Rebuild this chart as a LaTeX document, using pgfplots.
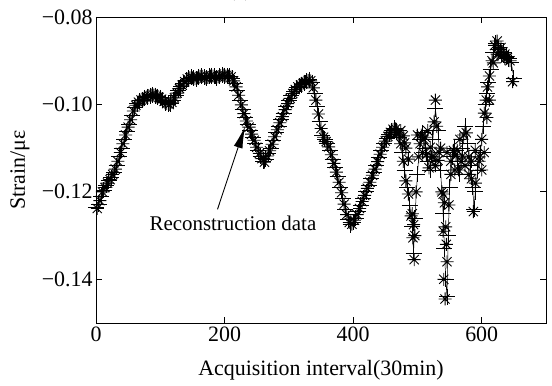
\documentclass[border=0pt]{standalone}
\usepackage{pgfplots}
\pgfplotsset{compat=1.18}
\usepackage{fontspec}
\setmainfont{Liberation Serif}
\usetikzlibrary{arrows.meta}
\pgfdeclareplotmark{mstar}{%
 \pgfpathmoveto{\pgfqpoint{-\pgfplotmarksize}{0pt}}\pgfpathlineto{\pgfqpoint{\pgfplotmarksize}{0pt}}%
 \pgfpathmoveto{\pgfqpoint{0pt}{-\pgfplotmarksize}}\pgfpathlineto{\pgfqpoint{0pt}{\pgfplotmarksize}}%
 \pgfpathmoveto{\pgfqpoint{-0.707\pgfplotmarksize}{-0.707\pgfplotmarksize}}\pgfpathlineto{\pgfqpoint{0.707\pgfplotmarksize}{0.707\pgfplotmarksize}}%
 \pgfpathmoveto{\pgfqpoint{-0.707\pgfplotmarksize}{0.707\pgfplotmarksize}}\pgfpathlineto{\pgfqpoint{0.707\pgfplotmarksize}{-0.707\pgfplotmarksize}}%
 \pgfusepathqstroke}

\pgfplotstableread{
x y
0 -0.1235
4 -0.1228
8 -0.1210
12 -0.1196
16 -0.1185
20 -0.1175
24 -0.1168
28 -0.1155
32 -0.1140
36 -0.1120
40 -0.1100
44 -0.1080
48 -0.1062
52 -0.1045
56 -0.1025
60 -0.1008
64 -0.0998
68 -0.0992
72 -0.0990
76 -0.0985
80 -0.0982
84 -0.0980
88 -0.0978
92 -0.0980
96 -0.0982
100 -0.0985
104 -0.0990
108 -0.0996
112 -0.1000
116 -0.0998
120 -0.0990
124 -0.0980
128 -0.0968
132 -0.0960
136 -0.0952
140 -0.0945
144 -0.0940
148 -0.0938
152 -0.0940
156 -0.0942
160 -0.0937
164 -0.0935
168 -0.0938
172 -0.0940
176 -0.0936
180 -0.0934
184 -0.0936
188 -0.0940
192 -0.0935
196 -0.0933
200 -0.0934
204 -0.0936
208 -0.0935
212 -0.0940
216 -0.0952
220 -0.0968
224 -0.0990
228 -0.1012
232 -0.1030
236 -0.1045
240 -0.1060
244 -0.1075
248 -0.1090
252 -0.1105
256 -0.1118
260 -0.1130
264 -0.1125
268 -0.1112
272 -0.1100
276 -0.1082
280 -0.1065
284 -0.1050
288 -0.1035
292 -0.1020
296 -0.1005
300 -0.0992
304 -0.0980
308 -0.0970
312 -0.0962
316 -0.0958
320 -0.0955
324 -0.0950
328 -0.0946
332 -0.0944
336 -0.0950
340 -0.0975
344 -0.1005
348 -0.1040
352 -0.1070
356 -0.1080
360 -0.1090
364 -0.1105
368 -0.1125
372 -0.1145
376 -0.1165
380 -0.1190
384 -0.1215
388 -0.1240
392 -0.1262
396 -0.1275
400 -0.1270
404 -0.1260
408 -0.1245
412 -0.1230
416 -0.1215
420 -0.1200
424 -0.1185
428 -0.1170
432 -0.1155
436 -0.1140
440 -0.1122
444 -0.1105
448 -0.1090
452 -0.1078
456 -0.1068
460 -0.1060
464 -0.1055
468 -0.1060
472 -0.1075
476 -0.1110
480 -0.1150
484 -0.1190
488 -0.1230
492 -0.1280
494 -0.1340
496 -0.1260
500 -0.1160
504 -0.1080
508 -0.1065
512 -0.1100
516 -0.1130
520 -0.1150
524 -0.1080
528 -0.1010
532 -0.1060
536 -0.1150
540 -0.1250
542 -0.1330
544 -0.1400
546 -0.1440
548 -0.1300
550 -0.1190
554 -0.1120
558 -0.1100
562 -0.1130
566 -0.1160
570 -0.1100
574 -0.1050
578 -0.1090
582 -0.1140
586 -0.1190
588 -0.1240
590 -0.1200
594 -0.1150
598 -0.1110
602 -0.1050
606 -0.1000
608 -0.0975
610 -0.0950
614 -0.0920
618 -0.0880
622 -0.0860
626 -0.0875
630 -0.0885
634 -0.0880
638 -0.0890
642 -0.0895
646 -0.0905
650 -0.0940
}\dataA

\pgfplotstableread{
x y
2 -0.1238
6 -0.1220
10 -0.1200
14 -0.1190
18 -0.1180
22 -0.1172
26 -0.1160
30 -0.1148
34 -0.1130
38 -0.1110
42 -0.1090
46 -0.1070
50 -0.1052
54 -0.1035
58 -0.1015
62 -0.1002
66 -0.0995
70 -0.0990
74 -0.0988
78 -0.0984
82 -0.0980
86 -0.0979
90 -0.0979
94 -0.0981
98 -0.0984
102 -0.0988
106 -0.0993
110 -0.0998
114 -0.1000
118 -0.0995
122 -0.0985
126 -0.0974
130 -0.0964
134 -0.0956
138 -0.0948
142 -0.0942
146 -0.0939
150 -0.0939
154 -0.0941
158 -0.0939
162 -0.0936
166 -0.0936
170 -0.0939
174 -0.0938
178 -0.0935
182 -0.0935
186 -0.0938
190 -0.0937
194 -0.0934
198 -0.0933
202 -0.0935
206 -0.0935
210 -0.0937
214 -0.0946
218 -0.0960
222 -0.0979
226 -0.1001
230 -0.1021
234 -0.1038
238 -0.1052
242 -0.1068
246 -0.1082
250 -0.1098
254 -0.1112
258 -0.1124
262 -0.1132
266 -0.1118
270 -0.1106
274 -0.1091
278 -0.1074
282 -0.1058
286 -0.1042
290 -0.1028
294 -0.1012
298 -0.0998
302 -0.0986
306 -0.0975
310 -0.0966
314 -0.0960
318 -0.0956
322 -0.0952
326 -0.0948
330 -0.0945
334 -0.0946
338 -0.0962
342 -0.0990
346 -0.1022
350 -0.1055
354 -0.1075
358 -0.1085
362 -0.1097
366 -0.1115
370 -0.1135
374 -0.1155
378 -0.1178
382 -0.1202
386 -0.1228
390 -0.1252
394 -0.1270
398 -0.1274
402 -0.1265
406 -0.1252
410 -0.1238
414 -0.1222
418 -0.1208
422 -0.1192
426 -0.1178
430 -0.1162
434 -0.1148
438 -0.1131
442 -0.1114
446 -0.1098
450 -0.1084
454 -0.1073
458 -0.1064
462 -0.1057
466 -0.1056
470 -0.1065
474 -0.1090
478 -0.1130
482 -0.1175
486 -0.1205
490 -0.1255
493 -0.1305
495 -0.1355
498 -0.1200
502 -0.1120
506 -0.1070
510 -0.1080
514 -0.1115
518 -0.1145
522 -0.1120
526 -0.1040
528 -0.0990
530 -0.1050
534 -0.1110
538 -0.1200
540 -0.1290
541 -0.1400
543 -0.1445
546 -0.1360
549 -0.1230
552 -0.1160
556 -0.1105
560 -0.1115
564 -0.1150
568 -0.1130
572 -0.1070
576 -0.1065
580 -0.1120
584 -0.1170
587 -0.1245
590 -0.1180
596 -0.1130
600 -0.1080
604 -0.1020
607 -0.0990
609 -0.0960
612 -0.0935
616 -0.0900
620 -0.0865
624 -0.0855
628 -0.0880
632 -0.0888
636 -0.0885
640 -0.0893
644 -0.0900
648 -0.0948
}\dataB

\pgfplotstableread{
x y
470 -0.1068
474 -0.1060
478 -0.1072
480 -0.1088
482 -0.1100
486 -0.1125
492 -0.1250
494 -0.1275
496 -0.1300
500 -0.1070
504 -0.1090
508 -0.1110
512 -0.1075
516 -0.1060
520 -0.1098
524 -0.1120
528 -0.1140
532 -0.1128
536 -0.1100
540 -0.1205
542 -0.1225
544 -0.1280
545 -0.1320
546 -0.1110
552 -0.1130
558 -0.1150
562 -0.1105
566 -0.1080
570 -0.1118
574 -0.1140
580 -0.1160
584 -0.1130
590 -0.1105
596 -0.1120
600 -0.1150
604 -0.1110
608 -0.1030
612 -0.0990
618 -0.0905
624 -0.0885
630 -0.0870
636 -0.0895
}\dataC

\begin{document}
\begin{tikzpicture}[font=\fontsize{21}{25}\selectfont]
\begin{axis}[
  scale only axis,
  width=450bp, height=306bp,
  xmin=0, xmax=700, ymin=-0.15, ymax=-0.08,
  xtick={0,200,400,600}, xticklabels={0,200,400,600},
  ytick={-0.14,-0.12,-0.10,-0.08}, yticklabels={−0.14,−0.12,−0.10,−0.08},
  tick label style={font=\fontsize{22}{26}\selectfont},
  tick align=inside, major tick length=6bp,
  minor tick num=0,
  axis line style={line width=0.8pt},
  every tick/.style={line width=0.8pt, black},
  xlabel={Acquisition interval(30min)},
  ylabel={Strain/με},
  every axis x label/.style={at={([yshift=-47bp]axis description cs:0.5,0)}, anchor=center, font=\fontsize{22}{26}\selectfont},
  every axis y label/.style={at={([xshift=-76bp]axis description cs:0,0.5)}, anchor=center, rotate=90, font=\fontsize{22}{26}\selectfont},
  clip=false,
]
\addplot[black, line width=0.5pt, mark=+, mark size=8bp, mark options={line width=0.9pt}] table[x=x,y=y] {\dataA};
\addplot[black, only marks, mark=mstar, mark size=6.5bp, mark options={line width=0.9pt}] table[x=x,y=y] {\dataB};
\addplot[black, only marks, mark=mstar, mark size=6.5bp, mark options={line width=0.9pt}] table[x=x,y=y] {\dataC};
\draw[-{Latex[length=22bp,width=9bp]}, line width=0.9pt] (axis cs:189,-0.1240) -- (axis cs:232,-0.1050);
\node at (axis cs:213,-0.1271) {Reconstruction data};
\node[anchor=base] at ([yshift=20bp]rel axis cs:0.32,1) {(a)};
\end{axis}
\pgfresetboundingbox
\path[use as bounding box] (-96bp,-63bp) rectangle (456bp,323bp);
\end{tikzpicture}
\end{document}
